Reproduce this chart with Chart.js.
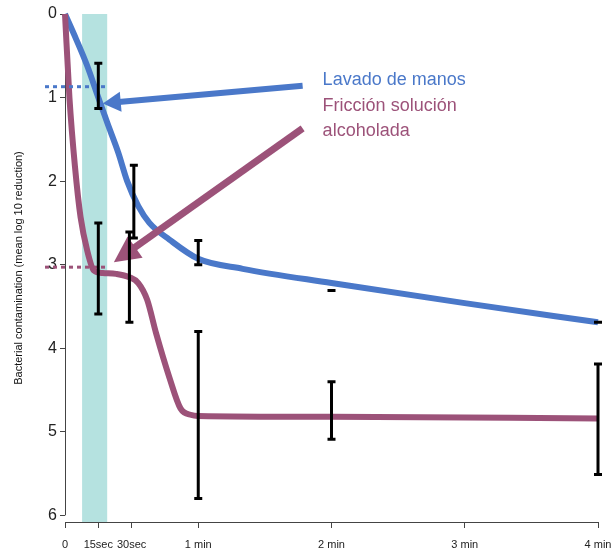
<!DOCTYPE html>
<html>
<head>
<meta charset="utf-8">
<script src="https://cdn.jsdelivr.net/npm/chart.js@4"></script>
<style>
  html, body { margin: 0; padding: 0; background: #fff; }
</style>
</head>
<body>
<canvas id="chart" width="615" height="552"></canvas>
<script>
// Time axis in seconds
const xTicks = [0, 15, 30, 60, 120, 180, 240];
const xTickLabels = ['0', '15sec', '30sec', '1 min', '2 min', '3 min', '4 min'];
const yTicks = [0, 1, 2, 3, 4, 5, 6];

// Lavado de manos (hand washing) curve
const washTimes = [0, 5, 10, 15, 19, 24, 28, 33, 38, 47, 60, 80, 120, 180, 240];
const washValues = [0, 0.3, 0.62, 1.0, 1.3, 1.66, 2.0, 2.3, 2.5, 2.7, 2.93, 3.05, 3.22, 3.46, 3.69];

// Fricción solución alcoholada (alcohol rub) curve
const rubTimes = [0, 2, 4.5, 7, 10, 13, 17, 23, 29, 33, 37, 41, 47, 52, 57, 60, 120, 240];
const rubValues = [0, 1.0, 1.83, 2.43, 2.83, 3.07, 3.1, 3.11, 3.15, 3.22, 3.42, 3.82, 4.35, 4.72, 4.8, 4.81, 4.82, 4.84];

// Error bars
const washErrTimes = [15, 31, 60, 120, 240];
const washErrLow = [0.59, 1.81, 2.71, 3.31, 3.69];
const washErrHigh = [1.13, 2.68, 3.0, 3.31, 3.69];
const rubErrTimes = [15, 29, 60, 120, 240];
const rubErrLow = [2.5, 2.61, 3.8, 4.4, 4.19];
const rubErrHigh = [3.59, 3.69, 5.8, 5.09, 5.51];

// Shaded 15 sec band and dotted reference levels
const bandRange = [7.7, 19];
const washLevel = 0.87;
const rubLevel = 3.03;
const levelRange = [-9, 19];

const blue = '#4a78c9';
const pink = '#9c5279';
const bandColor = '#b5e2e0';

function toPoints(xs, ys) {
    return xs.map((t, i) => ({ x: t, y: ys[i] }));
}

// arrow from tail to tip, in data coords
const arrows = [
    { from: [107, 0.86], to: [17, 1.07], color: blue, width: 6, head: 18, headW: 20 },
    { from: [107, 1.37], to: [22, 2.97], color: pink, width: 7, head: 26, headW: 26 },
];
const notes = [
    { text: 'Lavado de manos', at: [116, 0.79], color: blue },
    { text: 'Fricción solución', at: [116, 1.1], color: pink },
    { text: 'alcoholada', at: [116, 1.4], color: pink },
];

function drawArrow(ctx, x1, y1, x2, y2, a) {
    const ang = Math.atan2(y2 - y1, x2 - x1);
    const bx = x2 - Math.cos(ang) * a.head;
    const by = y2 - Math.sin(ang) * a.head;
    ctx.strokeStyle = a.color;
    ctx.fillStyle = a.color;
    ctx.lineWidth = a.width;
    ctx.lineCap = 'butt';
    ctx.beginPath();
    ctx.moveTo(x1, y1);
    ctx.lineTo(bx + Math.cos(ang) * 2, by + Math.sin(ang) * 2);
    ctx.stroke();
    const nx = -Math.sin(ang) * a.headW / 2;
    const ny = Math.cos(ang) * a.headW / 2;
    ctx.beginPath();
    ctx.moveTo(x2, y2);
    ctx.lineTo(bx + nx, by + ny);
    ctx.lineTo(bx - nx, by - ny);
    ctx.closePath();
    ctx.fill();
}

function drawErrBars(ctx, x, y, times, lows, highs) {
    ctx.strokeStyle = '#000';
    ctx.lineWidth = 3;
    ctx.lineCap = 'butt';
    times.forEach((t, i) => {
        const px = x.getPixelForValue(t);
        const p1 = y.getPixelForValue(lows[i]);
        const p2 = y.getPixelForValue(highs[i]);
        ctx.beginPath();
        if (p2 - p1 > 1) {
            ctx.moveTo(px, p1);
            ctx.lineTo(px, p2);
        }
        ctx.moveTo(px - 4, p1);
        ctx.lineTo(px + 4, p1);
        ctx.moveTo(px - 4, p2);
        ctx.lineTo(px + 4, p2);
        ctx.stroke();
    });
}

const overlay = {
    id: 'overlay',
    beforeDatasetsDraw(chart) {
        const { ctx, scales: { x, y } } = chart;
        ctx.save();
        // 15 sec band
        const bx1 = x.getPixelForValue(bandRange[0]);
        const bx2 = x.getPixelForValue(bandRange[1]);
        ctx.fillStyle = bandColor;
        ctx.fillRect(bx1, y.getPixelForValue(0), bx2 - bx1, y.bottom - y.getPixelForValue(0));
        // axis lines, R style
        ctx.strokeStyle = '#444';
        ctx.lineWidth = 1;
        ctx.beginPath();
        ctx.moveTo(x.left + 0.5, y.getPixelForValue(0));
        ctx.lineTo(x.left + 0.5, y.getPixelForValue(6));
        ctx.moveTo(x.getPixelForValue(0), y.bottom + 0.5);
        ctx.lineTo(x.getPixelForValue(240), y.bottom + 0.5);
        ctx.stroke();
        ctx.restore();
    },
    afterDatasetsDraw(chart) {
        const { ctx, scales: { x, y } } = chart;
        ctx.save();
        arrows.forEach(a => {
            drawArrow(ctx,
                x.getPixelForValue(a.from[0]), y.getPixelForValue(a.from[1]),
                x.getPixelForValue(a.to[0]), y.getPixelForValue(a.to[1]), a);
        });
        drawErrBars(ctx, x, y, washErrTimes, washErrLow, washErrHigh);
        drawErrBars(ctx, x, y, rubErrTimes, rubErrLow, rubErrHigh);
        ctx.font = '18px "Liberation Sans", Arial, sans-serif';
        ctx.textBaseline = 'middle';
        ctx.textAlign = 'left';
        notes.forEach(n => {
            ctx.fillStyle = n.color;
            ctx.fillText(n.text, x.getPixelForValue(n.at[0]), y.getPixelForValue(n.at[1]));
        });
        ctx.restore();
    }
};

const ctx = document.getElementById('chart').getContext('2d');
const chart = new Chart(ctx, {
    type: 'scatter',
    data: {
        datasets: [
            {
                data: [{ x: levelRange[0], y: washLevel }, { x: levelRange[1], y: washLevel }],
                showLine: true, borderColor: blue, borderWidth: 3, borderDash: [4, 4],
                pointRadius: 0, clip: false
            },
            {
                data: [{ x: levelRange[0], y: rubLevel }, { x: levelRange[1], y: rubLevel }],
                showLine: true, borderColor: pink, borderWidth: 3, borderDash: [4, 4],
                pointRadius: 0, clip: false
            },
            {
                label: 'Fricción solución alcoholada',
                data: toPoints(rubTimes, rubValues),
                showLine: true, borderColor: pink, borderWidth: 6,
                cubicInterpolationMode: 'monotone', pointRadius: 0, clip: false
            },
            {
                label: 'Lavado de manos',
                data: toPoints(washTimes, washValues),
                showLine: true, borderColor: blue, borderWidth: 6,
                cubicInterpolationMode: 'monotone', pointRadius: 0, clip: false
            }
        ]
    },
    options: {
        responsive: false,
        animation: false,
        layout: { padding: { top: 14, right: 17, left: 0, bottom: 0 } },
        plugins: { legend: { display: false }, tooltip: { enabled: false } },
        scales: {
            x: {
                type: 'linear', min: 0, max: 240,
                afterBuildTicks: s => { s.ticks = xTicks.map(v => ({ value: v })); },
                afterFit: s => { s.height = 30; s.paddingLeft = 0; s.paddingRight = 0; },
                border: { display: false },
                grid: { drawOnChartArea: false, drawTicks: true, tickLength: 6, tickColor: '#444' },
                ticks: {
                    autoSkip: false, maxRotation: 0, padding: 10, color: '#222',
                    font: { size: 11, family: '"Liberation Sans", Arial, sans-serif' },
                    callback: v => xTickLabels[xTicks.indexOf(v)]
                }
            },
            y: {
                type: 'linear', reverse: true, min: 0, max: 6.08,
                afterBuildTicks: s => { s.ticks = yTicks.map(v => ({ value: v })); },
                afterFit: s => { s.width = 65; },
                border: { display: false },
                grid: { drawOnChartArea: false, drawTicks: true, tickLength: 5, tickColor: '#444' },
                ticks: {
                    padding: 3, color: '#222',
                    font: { size: 16, family: '"Liberation Sans", Arial, sans-serif' }
                },
                title: {
                    display: true, text: 'Bacterial contamination (mean log 10 reduction)',
                    color: '#111', padding: { top: 12, bottom: 0 },
                    font: { size: 11, family: '"Liberation Sans", Arial, sans-serif' }
                }
            }
        }
    },
    plugins: [overlay]
});
</script>
</body>
</html>
